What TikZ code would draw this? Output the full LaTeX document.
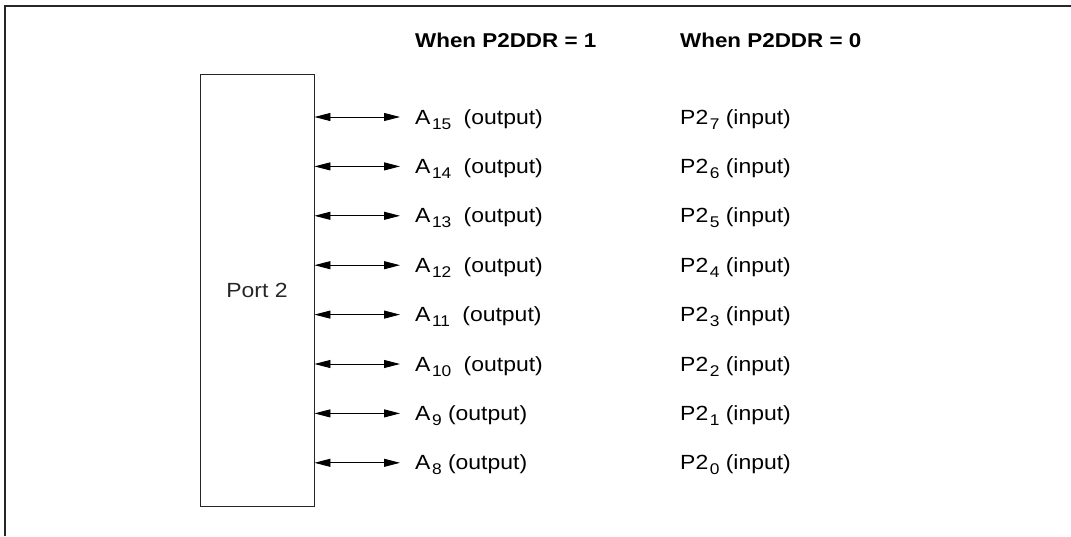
\documentclass[tikz,border=0pt]{standalone}
\usepackage{fontspec}
\setmainfont[FakeStretch=1.12]{Liberation Sans}
\usetikzlibrary{arrows.meta}
\newcommand\lowsub[1]{\kern1.5pt\raisebox{-5pt}{\fontsize{15.5}{15.5}\selectfont #1}}
\tikzset{
  frame/.style={line width=1.3pt, black!85},
  portbox/.style={draw, line width=0.9pt, black!85, minimum width=114pt, minimum height=432pt, inner sep=0pt, font=\fontsize{20.5}{20.5}\selectfont},
  bidir/.style={line width=0.9pt, {Triangle[length=16pt,width=8pt]}-{Triangle[length=16pt,width=8pt]}},
  lbl/.style={anchor=base west, inner sep=0pt, font=\fontsize{20.5}{20.5}\selectfont},
  hdr/.style={anchor=base west, inner sep=0pt, font=\fontsize{20}{20}\selectfont\bfseries}
}
\begin{document}
\begin{tikzpicture}[x=1pt,y=-1pt]
\useasboundingbox (0,0) rectangle (1071,536);
\coordinate (fb) at (5,536);
\coordinate (fc) at (5,6);
\coordinate (fr) at (1071,6);
\draw[frame] (fb) -- (fc) -- (fr);
\node[hdr] (h1) at (415,47) {When P2DDR = 1};
\node[hdr] (h2) at (680,47) {When P2DDR = 0};
\node[portbox] (port) at (257,290) {Port 2};
\foreach \i/\a/\p/\gap in {0/15/7/6,1/14/6/6,2/13/5/6,3/12/4/6,4/11/3/6,5/10/2/6,6/9/1/0,7/8/0/0}{
  \pgfmathsetmacro\yy{117+\i*49.4}
  \coordinate (s\i) at (314,\yy);
  \coordinate (e\i) at (400,\yy);
  \draw[bidir] (port.east |- s\i) -- (e\i);
  \node[lbl] (a\i) at (415,\yy+7) {A\lowsub{\a}\hspace{\gap pt} (output)};
  \node[lbl] (p\i) at (680,\yy+7) {P2\lowsub{\p} (input)};
}
\end{tikzpicture}
\end{document}
